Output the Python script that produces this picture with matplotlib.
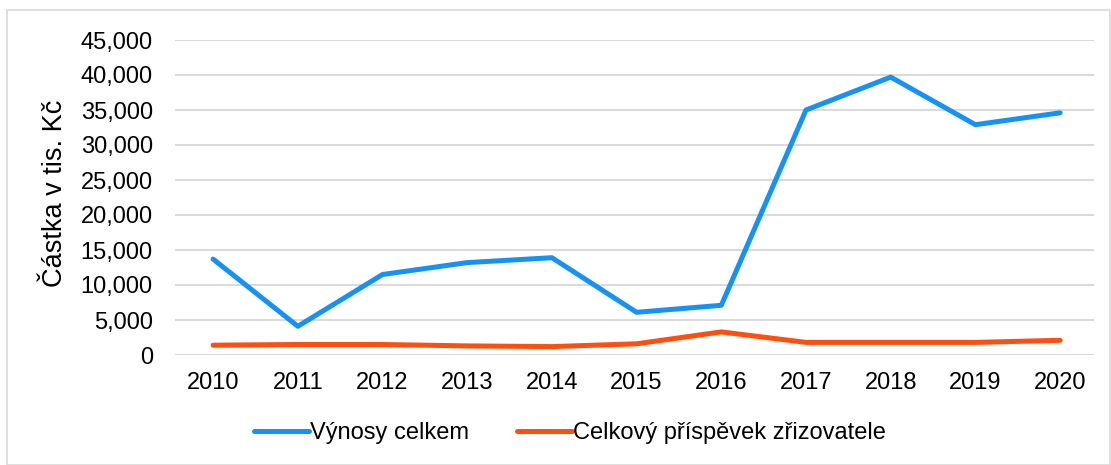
import matplotlib.pyplot as plt
from matplotlib.patches import Rectangle
from matplotlib.ticker import FuncFormatter

plt.rcParams['font.family'] = ['Liberation Sans', 'DejaVu Sans']

years = ["2010", "2011", "2012", "2013", "2014", "2015", "2016", "2017", "2018", "2019", "2020"]
vynosy = [13700, 4100, 11500, 13200, 13900, 6100, 7100, 35000, 39700, 32900, 34600]
prispevek = [1400, 1500, 1500, 1300, 1200, 1600, 3300, 1800, 1800, 1800, 2100]

fig = plt.figure(figsize=(11.11, 4.65), dpi=100)
ax = fig.add_axes([175 / 1111, 1 - 355 / 465, (1094 - 175) / 1111, (355 - 40) / 465])

x = range(len(years))
ax.plot(x, vynosy, color="#1692F4", linewidth=3.6, label="Výnosy celkem", solid_capstyle="round")
ax.plot(x, prispevek, color="#FF4E0E", linewidth=3.6, label="Celkový příspěvek zřizovatele",
        solid_capstyle="round")

ax.set_ylim(0, 45000)
ax.set_yticks(range(0, 45001, 5000))
ax.yaxis.set_major_formatter(FuncFormatter(lambda v, p: f"{int(v):,}"))
ax.set_xlim(-0.45, 10.4)
ax.set_xticks(list(x))
ax.set_xticklabels(years)
ax.tick_params(axis="both", length=0, labelsize=17, colors="#000000")
ax.tick_params(axis="y", pad=16)
ax.tick_params(axis="x", pad=12)
ax.grid(axis="y", color="#D9D9D9", linewidth=1.4)
ax.set_axisbelow(True)
for s in ax.spines.values():
    s.set_visible(False)

fig.text(55 / 1111, 1 - 193 / 465, "Částka v tis. Kč", rotation=90, fontsize=19.5,
         ha="center", va="center")

ax.legend(loc="center", bbox_to_anchor=(570 / 1111, 1 - 433 / 465), bbox_transform=fig.transFigure,
          ncol=2, frameon=False, fontsize=17, handlelength=2.35, columnspacing=2.0, handletextpad=0.05,
          borderpad=0)

fig.patches.append(Rectangle((7 / 1111, 0), 1 - 7 / 1111 - 0.001, 1 - 10 / 465, transform=fig.transFigure,
                             fill=False, edgecolor="#D9D9D9", linewidth=1.2))

fig.savefig("out.png", dpi=100)
